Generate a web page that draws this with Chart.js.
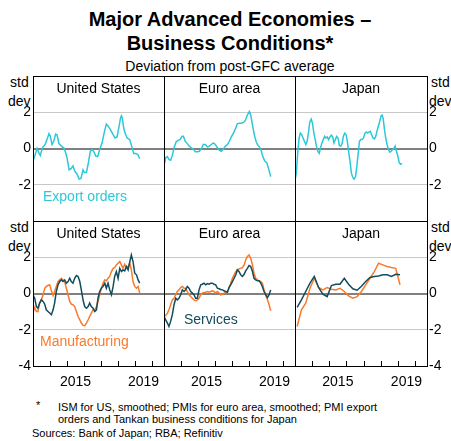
<!DOCTYPE html>
<html>
<head>
<meta charset="utf-8">
<script src="https://cdn.jsdelivr.net/npm/chart.js@4.4.1/dist/chart.umd.min.js"></script>
<style>
body { margin: 0; background: #fff; font-family: "Liberation Sans", Arial, sans-serif; }
#wrap { position: relative; width: 451px; height: 441px; overflow: hidden; background: #fff; }
#wrap canvas { position: absolute; left: 0; top: 0; }
.t { position: absolute; white-space: nowrap; color: #000; }
</style>
</head>
<body>
<div id="wrap">
  <div class="t" style="left:0;width:460px;text-align:center;top:7px;font-weight:bold;font-size:20px;line-height:24px">Major Advanced Economies –<br>Business Conditions*</div>
  <div class="t" style="left:0;width:460px;text-align:center;top:58px;font-size:14px;line-height:16px">Deviation from post-GFC average</div>

  <div class="t" style="left:10px;top:74px;font-size:14px;line-height:16px">std</div>
  <div class="t" style="left:8px;top:93px;font-size:14px;line-height:16px">dev</div>
  <div class="t" style="left:431px;top:74px;font-size:14px;line-height:16px">std</div>
  <div class="t" style="left:429px;top:93px;font-size:14px;line-height:16px">dev</div>
  <div class="t" style="left:10px;top:219px;font-size:14px;line-height:16px">std</div>
  <div class="t" style="left:8px;top:238px;font-size:14px;line-height:16px">dev</div>
  <div class="t" style="left:431px;top:219px;font-size:14px;line-height:16px">std</div>
  <div class="t" style="left:429px;top:238px;font-size:14px;line-height:16px">dev</div>

  <div class="t" style="left:36px;top:399px;font-size:11px;line-height:12px">*</div>
  <div class="t" style="left:58px;top:401px;font-size:11px;line-height:12px">ISM for US, smoothed; PMIs for euro area, smoothed; PMI export<br>orders and Tankan business conditions for Japan</div>
  <div class="t" style="left:32px;top:427px;font-size:11px;line-height:12px">Sources: Bank of Japan; RBA; Refinitiv</div>
</div>
<script>
/* ---------- data (std dev from post-GFC average) ---------- */
const panelTitles = ['United States', 'Euro area', 'Japan'];
const yearLabels = [2015, 2019];
const yearTicks = [2014, 2015, 2016, 2017, 2018, 2019, 2020];
const yTicks = [-4, -2, 0, 2, 4];

// export orders, [year, value]
const usExportOrders = [
  [2013.00,-0.69],[2013.10,-0.42],[2013.24,0.00],[2013.35,-0.24],[2013.43,-0.38],[2013.55,0.04],
  [2013.63,0.13],[2013.71,0.22],[2013.82,0.49],[2013.94,0.82],[2014.02,0.67],[2014.12,0.22],
  [2014.22,0.40],[2014.33,0.80],[2014.41,0.76],[2014.53,0.27],[2014.67,0.13],[2014.80,0.04],
  [2014.90,-0.18],[2015.00,-0.51],[2015.12,-1.18],[2015.24,-1.11],[2015.35,-0.96],[2015.45,-1.24],
  [2015.59,-1.42],[2015.71,-1.69],[2015.82,-1.65],[2015.94,-1.18],[2016.02,-1.33],[2016.14,-1.33],
  [2016.24,-0.87],[2016.37,-0.15],[2016.47,-0.05],[2016.59,-0.20],[2016.69,-0.42],[2016.80,-0.45],
  [2016.92,-0.05],[2017.06,0.31],[2017.18,0.85],[2017.31,1.35],[2017.43,1.22],[2017.55,1.04],
  [2017.71,0.76],[2017.82,0.58],[2017.94,0.64],[2018.06,1.22],[2018.14,1.67],[2018.20,1.80],
  [2018.25,1.67],[2018.33,1.13],[2018.41,0.85],[2018.53,0.58],[2018.69,0.49],[2018.80,0.13],
  [2018.92,-0.27],[2019.04,-0.27],[2019.16,-0.33],[2019.27,-0.56]
];
const euroExportOrders = [
  [2013.00,-0.96],[2013.10,-0.51],[2013.20,-0.45],[2013.29,-0.60],[2013.39,-0.65],[2013.49,-0.38],
  [2013.59,0.04],[2013.71,0.36],[2013.82,0.45],[2013.94,0.49],[2014.06,0.67],[2014.14,0.67],
  [2014.25,0.40],[2014.37,0.27],[2014.49,0.13],[2014.61,0.04],[2014.73,-0.05],[2014.84,-0.18],
  [2014.96,-0.18],[2015.08,-0.15],[2015.20,0.00],[2015.31,0.22],[2015.43,0.22],[2015.55,0.09],
  [2015.67,0.13],[2015.78,0.22],[2015.90,0.31],[2016.02,0.22],[2016.14,0.04],[2016.25,-0.09],
  [2016.37,-0.15],[2016.49,-0.02],[2016.61,0.13],[2016.73,0.22],[2016.84,0.40],[2016.96,0.64],
  [2017.08,0.85],[2017.20,1.09],[2017.31,1.36],[2017.43,1.40],[2017.55,1.40],[2017.67,1.44],
  [2017.78,1.55],[2017.90,1.85],[2018.02,2.04],[2018.10,1.85],[2018.18,1.40],[2018.25,1.04],
  [2018.33,0.67],[2018.41,0.40],[2018.49,0.22],[2018.61,0.09],[2018.69,-0.05],[2018.80,-0.42],
  [2018.92,-0.69],[2019.04,-0.78],[2019.16,-1.15],[2019.27,-1.55]
];
const japanExportOrders = [
  [2013.00,-1.78],[2013.08,-1.33],[2013.16,-0.24],[2013.24,0.58],[2013.31,0.85],[2013.39,0.76],
  [2013.47,0.58],[2013.55,0.40],[2013.63,0.22],[2013.71,0.40],[2013.78,0.85],[2013.86,1.44],
  [2013.94,1.62],[2014.02,1.40],[2014.10,0.85],[2014.18,0.49],[2014.25,0.13],[2014.33,-0.15],
  [2014.41,-0.27],[2014.49,0.04],[2014.57,0.31],[2014.65,0.49],[2014.73,0.67],[2014.80,0.58],
  [2014.88,0.64],[2014.96,0.49],[2015.04,0.64],[2015.12,0.73],[2015.20,0.64],[2015.27,0.31],
  [2015.35,0.49],[2015.43,0.67],[2015.51,0.58],[2015.59,0.16],[2015.67,0.13],[2015.75,0.27],
  [2015.82,0.67],[2015.90,0.85],[2015.98,0.76],[2016.06,0.35],[2016.14,-0.24],[2016.22,-0.78],
  [2016.29,-1.36],[2016.37,-1.60],[2016.45,-1.69],[2016.53,-1.55],[2016.61,-0.96],[2016.69,-0.24],
  [2016.76,0.40],[2016.84,0.49],[2016.92,0.49],[2017.00,0.58],[2017.08,0.85],[2017.16,0.91],
  [2017.24,0.85],[2017.31,0.91],[2017.39,0.95],[2017.47,0.76],[2017.55,0.58],[2017.63,0.53],
  [2017.71,0.67],[2017.78,0.95],[2017.86,1.22],[2017.94,1.49],[2018.02,1.80],[2018.08,1.85],
  [2018.14,1.67],[2018.22,1.04],[2018.29,0.58],[2018.37,0.22],[2018.45,-0.05],[2018.53,-0.20],
  [2018.61,-0.15],[2018.69,-0.05],[2018.76,-0.02],[2018.84,0.13],[2018.92,-0.15],[2019.00,-0.42],
  [2019.08,-0.78],[2019.16,-0.87],[2019.24,-0.82]
];

// PMI / ISM manufacturing and services, read on a common date grid
const pmiDates = [
  2013.00,2013.10,2013.20,2013.29,2013.39,2013.49,2013.59,2013.69,2013.78,2013.88,
  2013.98,2014.08,2014.18,2014.27,2014.37,2014.47,2014.57,2014.67,2014.76,2014.86,
  2014.96,2015.06,2015.16,2015.25,2015.35,2015.45,2015.55,2015.65,2015.75,2015.84,
  2015.94,2016.04,2016.14,2016.24,2016.33,2016.43,2016.53,2016.63,2016.73,2016.82,
  2016.92,2017.02,2017.12,2017.22,2017.31,2017.41,2017.51,2017.61,2017.71,2017.80,
  2017.90,2018.00,2018.10,2018.20,2018.29,2018.39,2018.49,2018.59,2018.69,2018.78,
  2018.88,2018.98,2019.08,2019.18,2019.27
];
const usManufacturing = [
  -1.08,-0.77,-0.99,-0.99,-0.53,-0.35,-0.07,0.29,0.39,0.44,
  0.48,0.15,-0.11,0.11,0.39,0.66,0.75,0.84,0.75,0.66,
  0.29,-0.07,-0.44,-0.59,-0.62,-0.72,-0.99,-1.27,-1.45,-1.63,
  -1.76,-1.78,-1.63,-1.45,-1.27,-1.08,-0.90,-0.90,-0.72,-0.44,
  -0.07,0.29,0.57,0.75,0.70,0.84,0.94,1.21,1.39,1.43,
  1.58,1.67,1.76,1.58,1.39,1.61,1.43,1.49,1.67,1.30,
  0.66,0.39,0.29,0.39,0.02
];
const usServices = [
  -0.07,-0.26,-0.72,-0.81,-0.53,-0.35,-0.44,-0.59,-0.90,-0.99,
  -1.08,-1.17,-0.90,-0.53,0.11,0.48,0.66,0.75,0.66,0.75,
  0.57,0.66,0.84,0.66,0.57,0.84,0.99,0.94,0.66,0.20,
  -0.35,-0.72,-0.81,-0.72,-0.53,-0.72,-0.81,-0.99,-0.90,-0.26,
  0.11,0.29,0.39,0.57,0.29,0.57,0.20,-0.07,0.39,0.94,
  1.21,0.84,1.39,1.21,1.30,1.25,1.49,1.30,1.76,2.13,
  1.76,1.12,1.03,0.75,0.57
];
const euroManufacturing = [
  -1.27,-1.21,-1.08,-0.90,-0.62,-0.35,-0.26,-0.07,0.11,0.20,
  0.33,0.39,0.29,0.29,0.11,-0.07,-0.17,-0.26,-0.35,-0.40,
  -0.35,-0.26,-0.07,0.02,0.06,0.07,0.11,0.07,0.11,0.15,
  0.11,0.02,0.11,0.02,-0.07,-0.04,0.02,0.07,0.11,0.29,
  0.57,0.84,1.03,1.21,1.30,1.36,1.39,1.43,1.58,1.85,
  2.04,2.13,1.94,1.58,1.12,0.84,0.75,0.70,0.66,0.57,
  0.20,-0.07,-0.35,-0.62,-0.95
];
const euroServices = [
  -1.27,-1.45,-1.63,-1.82,-1.54,-1.17,-0.62,-0.26,-0.35,-0.26,
  -0.07,0.20,0.11,0.20,0.39,0.29,0.11,0.02,-0.07,-0.26,
  -0.26,0.20,0.48,0.51,0.57,0.48,0.55,0.51,0.57,0.57,
  0.51,0.48,0.29,0.26,0.22,0.20,0.15,0.11,0.07,0.33,
  0.48,0.66,0.84,1.03,1.30,1.21,1.03,0.94,1.06,1.25,
  1.39,1.54,1.49,1.21,0.84,0.75,0.70,0.70,0.57,0.39,
  0.11,-0.07,-0.22,-0.07,0.20
];

// Tankan, quarterly
const tankanDates = [
  2013.125,2013.375,2013.625,2013.875,2014.125,2014.375,2014.625,2014.875,
  2015.125,2015.375,2015.625,2015.875,2016.125,2016.375,2016.625,2016.875,
  2017.125,2017.375,2017.625,2017.875,2018.125,2018.375,2018.625,2018.875,2019.125
];
const japanManufacturing = [
  -1.82,-0.90,-0.53,0.29,0.84,0.33,0.20,0.33,
  0.24,0.20,0.29,0.11,-0.13,-0.26,-0.17,0.11,
  0.48,0.84,1.21,1.67,1.58,1.49,1.43,1.39,0.48
];
const japanServices = [
  -0.77,-0.35,0.11,0.57,0.94,0.33,-0.04,-0.17,
  0.44,0.51,0.51,0.84,0.51,0.26,0.18,0.40,
  0.66,0.88,0.94,0.97,1.03,1.03,0.94,1.06,1.03
];

/* ---------- layout / styles ---------- */
const W = 451, H = 441;
const colEdges = [33, 164, 295, 427];
const rowEdges = [76, 221, 366];
const CYAN = '#2cc8d8', ORANGE = '#f97a2c', TEAL = '#134c5c';
Chart.defaults.font.family = '"Liberation Sans", Arial, sans-serif';
Chart.defaults.color = '#000';

function zip(xs, ys) {
    return xs.map((x, i) => ({ x: x, y: ys[i] }));
}
function pairs(arr) {
    return arr.map(p => ({ x: p[0], y: p[1] }));
}

const panelPlugin = {
    id: 'panelDeco',
    afterDraw(chart, args, opts) {
        const ctx = chart.ctx;
        const a = chart.chartArea;
        ctx.save();
        // panel title
        ctx.fillStyle = '#000';
        ctx.font = '14px "Liberation Sans", Arial, sans-serif';
        ctx.textAlign = 'center';
        ctx.textBaseline = 'middle';
        ctx.fillText(opts.title, (a.left + a.right) / 2, a.top + 13);
        // series labels inside the panel
        (opts.notes || []).forEach(n => {
            ctx.fillStyle = n.color;
            ctx.textAlign = 'left';
            ctx.fillText(n.text, a.left + n.dx, a.top + n.dy);
        });
        // year tick marks (bottom row only)
        if (opts.ticks) {
            const xs = chart.scales.x;
            ctx.strokeStyle = '#000';
            ctx.lineWidth = 1;
            ctx.beginPath();
            yearTicks.forEach(yr => {
                const px = Math.round(xs.getPixelForValue(yr)) + 0.5;
                ctx.moveTo(px, a.bottom);
                ctx.lineTo(px, a.bottom - 5);
            });
            ctx.stroke();
        }
        // frame
        ctx.strokeStyle = '#000';
        ctx.lineWidth = 1;
        ctx.strokeRect(a.left + 0.5, a.top + 0.5, a.right - a.left, a.bottom - a.top);
        ctx.restore();
    }
};

function makePanel(row, col, datasets, notes) {
    const c = document.createElement('canvas');
    c.width = W; c.height = H;
    document.getElementById('wrap').appendChild(c);
    // room for tick labels is given to the axes themselves (labels are clipped to the axis box)
    const yWidth = col === 0 ? colEdges[0] : (col === 2 ? W - colEdges[3] : 0);
    const xHeight = row === 1 ? H - rowEdges[2] : 0;
    return new Chart(c, {
        type: 'line',
        data: { datasets: datasets },
        plugins: [panelPlugin],
        options: {
            responsive: false,
            animation: false,
            devicePixelRatio: 1,
            layout: {
                padding: {
                    left: col === 0 ? 0 : colEdges[col],
                    right: col === 2 ? 0 : W - colEdges[col + 1],
                    top: rowEdges[row],
                    bottom: row === 1 ? 0 : H - rowEdges[row + 1]
                }
            },
            elements: { point: { radius: 0 }, line: { borderWidth: 1.5, tension: 0 } },
            plugins: {
                legend: { display: false },
                tooltip: { enabled: false },
                panelDeco: { title: panelTitles[col], notes: notes, ticks: row === 1 }
            },
            scales: {
                x: {
                    type: 'linear', min: 2013, max: 2020.7,
                    afterBuildTicks: s => { s.ticks = row === 1 ? yearLabels.map(y => ({ value: y + 0.5 })) : []; },
                    afterFit: s => { s.height = xHeight; },
                    border: { display: false },
                    grid: { display: false, drawTicks: false },
                    ticks: {
                        display: row === 1, padding: 8, maxRotation: 0, autoSkip: false,
                        font: { size: 14 }, color: '#000',
                        callback: v => String(Math.floor(v))
                    }
                },
                y: {
                    type: 'linear', min: -4, max: 4,
                    position: col === 2 ? 'right' : 'left',
                    afterBuildTicks: s => { s.ticks = yTicks.map(v => ({ value: v })); },
                    afterFit: s => { s.width = yWidth; },
                    border: { display: false },
                    grid: {
                        drawTicks: false,
                        color: ctx => {
                            const v = ctx.tick ? ctx.tick.value : null;
                            if (v === 0) return '#808080';
                            if (v === 2 || v === -2) return '#c8c8c8';
                            return 'rgba(0,0,0,0)';
                        },
                        lineWidth: ctx => (ctx.tick && ctx.tick.value === 0 ? 2 : 1)
                    },
                    ticks: {
                        display: col !== 1, padding: 2, autoSkip: false,
                        font: { size: 14 }, color: '#000',
                        callback: v => {
                            if (v === 4) return '';
                            if (v === -4 && row === 0) return '';
                            return String(v);
                        }
                    }
                }
            }
        }
    });
}

function line(data, color) {
    return { data: data, borderColor: color, backgroundColor: color, fill: false };
}

// top row: export orders
makePanel(0, 0, [line(pairs(usExportOrders), CYAN)],
    [{ text: 'Export orders', color: CYAN, dx: 10, dy: 121 }]);
makePanel(0, 1, [line(pairs(euroExportOrders), CYAN)], []);
makePanel(0, 2, [line(pairs(japanExportOrders), CYAN)], []);

// bottom row: manufacturing vs services
makePanel(1, 0, [line(zip(pmiDates, usServices), TEAL), line(zip(pmiDates, usManufacturing), ORANGE)],
    [{ text: 'Manufacturing', color: ORANGE, dx: 7, dy: 121 }]);
makePanel(1, 1, [line(zip(pmiDates, euroServices), TEAL), line(zip(pmiDates, euroManufacturing), ORANGE)],
    [{ text: 'Services', color: TEAL, dx: 20, dy: 99 }]);
makePanel(1, 2, [line(zip(tankanDates, japanServices), TEAL), line(zip(tankanDates, japanManufacturing), ORANGE)], []);
</script>
</body>
</html>
